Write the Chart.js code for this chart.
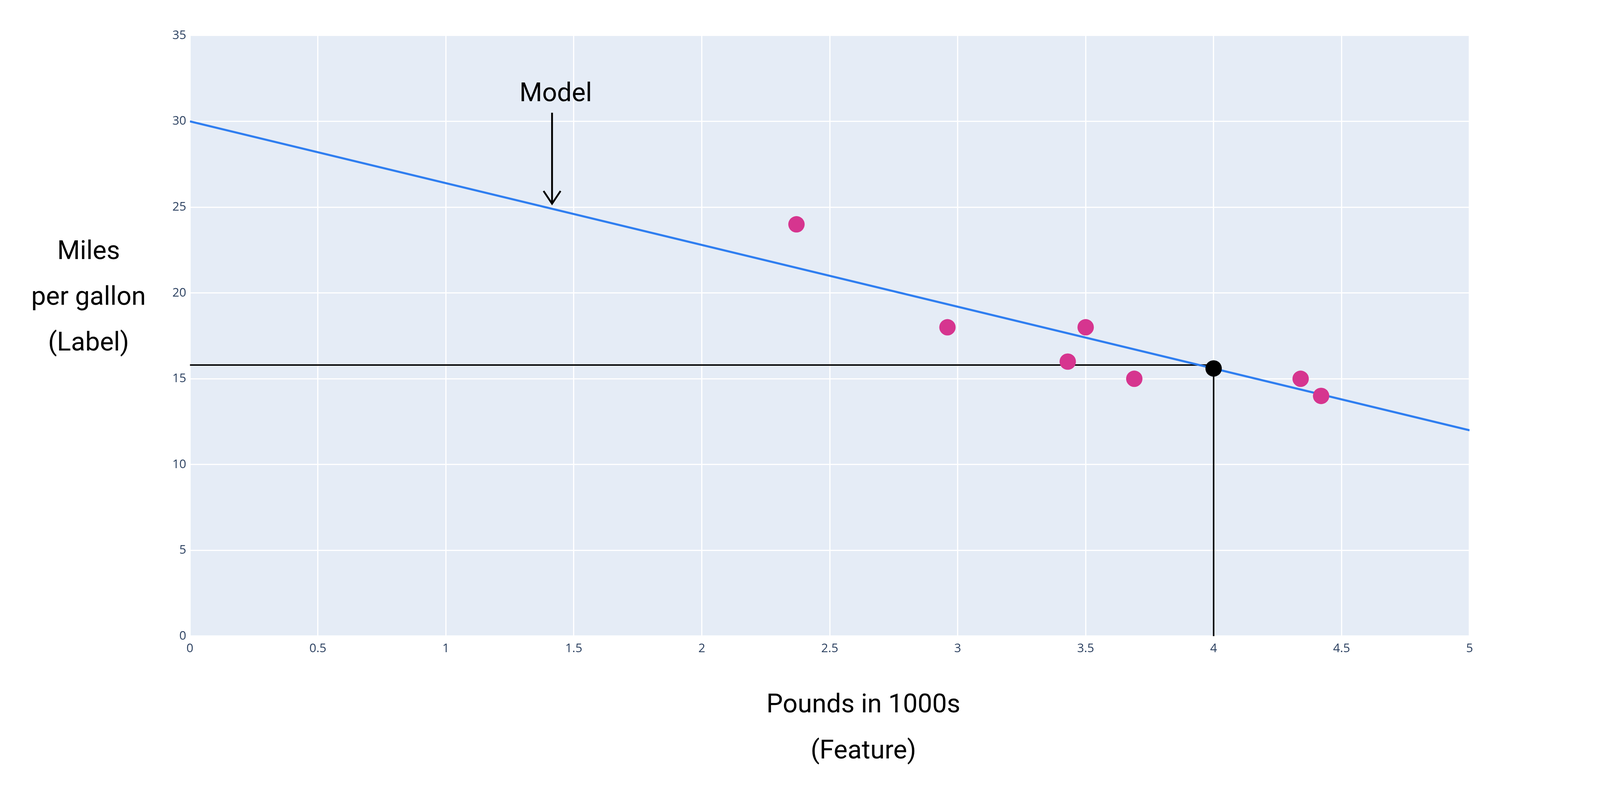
<!DOCTYPE html>
<html><head><meta charset="utf-8">
<script src="https://cdn.jsdelivr.net/npm/chart.js@4/dist/chart.umd.min.js"></script>
<style>html,body{margin:0;padding:0;background:#fff;overflow:hidden}#w{width:100vw;height:100vh}</style>
</head><body><div id="w"><canvas id="c"></canvas></div>
<script>
const weights = [2.37, 2.96, 3.43, 3.5, 3.69, 4.34, 4.42];
const mpg = [24, 18, 16, 18, 15, 15, 14];
const modelX = [0, 5];
const modelY = [30, 12];
const predX = 4, predY = 15.6, guideY = 15.8;
const xTitle = ["Pounds in 1000s", "(Feature)"];
const yTitle = ["Miles", "per gallon", "(Label)"];
const annText = "Model", annX = 1.415, annYTop = 30.5, annYTip = 25.2;

const S = window.innerWidth / 5274;
const SY = window.innerHeight / 2014;
const p = v => v * S;

const bgPlugin = {
  id: 'bg',
  beforeDraw(ch) {
    const a = ch.chartArea, c = ch.ctx;
    c.save(); c.fillStyle = '#e5ecf6'; c.fillRect(a.left, a.top, a.right - a.left, a.bottom - a.top); c.restore();
  },
  afterDraw(ch) {
    const c = ch.ctx, xs = ch.scales.x, ys = ch.scales.y;
    c.save();
    c.fillStyle = '#000'; c.font = p(86) + 'px Roboto'; c.textAlign = 'center'; c.textBaseline = 'middle';
    yTitle.forEach((t, i) => c.fillText(t, p(292), (646 + i * 117) * SY));
    xTitle.forEach((t, i) => c.fillText(t, p(2846), (1806 + i * 118) * SY));
    const ax = xs.getPixelForValue(annX), y1 = ys.getPixelForValue(annYTop), y2 = ys.getPixelForValue(annYTip);
    c.fillText(annText, ax + p(12), y1 - p(60));
    c.strokeStyle = '#000'; c.lineWidth = p(6);
    c.beginPath(); c.moveTo(ax, y1); c.lineTo(ax, y2); c.stroke();
    c.beginPath(); c.moveTo(ax - p(28), y2 - p(42)); c.lineTo(ax, y2); c.lineTo(ax + p(28), y2 - p(42)); c.stroke();
    c.restore();
  }
};

new Chart(document.getElementById('c'), {
  type: 'scatter',
  data: { datasets: [
    { type: 'line', data: [{x: 0, y: guideY}, {x: predX, y: guideY}], borderColor: '#000', borderWidth: p(5), pointRadius: 0, order: 3 },
    { type: 'line', data: [{x: predX, y: 0}, {x: predX, y: predY}], borderColor: '#000', borderWidth: p(5), pointRadius: 0, order: 3 },
    { type: 'line', data: modelX.map((x, i) => ({x, y: modelY[i]})), borderColor: '#2f7ef0', borderWidth: p(7), pointRadius: 0, order: 2 },
    { data: weights.map((x, i) => ({x, y: mpg[i]})), backgroundColor: '#d6358f', borderWidth: 0, pointRadius: p(27), order: 1 },
    { data: [{x: predX, y: predY}], backgroundColor: '#000', borderWidth: 0, pointRadius: p(27), order: 0 }
  ]},
  options: {
    responsive: true, maintainAspectRatio: false, animation: false,
    layout: { padding: { left: 0, top: 91 * SY, right: p(430), bottom: 0 } },
    plugins: { legend: { display: false }, tooltip: { enabled: false } },
    scales: {
      x: { type: 'linear', min: 0, max: 5,
        ticks: { stepSize: 0.5, color: '#2a3f5f', font: { size: p(40), family: 'Open Sans' }, padding: p(18), maxRotation: 0,
          callback: v => String(v) },
        grid: { color: '#ffffff', lineWidth: p(4), tickLength: 0, drawTicks: false }, border: { display: false },
        afterFit(s) { s.height = 386 * SY; } },
      y: { min: 0, max: 35,
        ticks: { stepSize: 5, color: '#2a3f5f', font: { size: p(40), family: 'Open Sans' }, padding: p(12) },
        grid: { color: '#ffffff', lineWidth: p(4), tickLength: 0, drawTicks: false }, border: { display: false },
        afterFit(s) { s.width = p(626); } }
    }
  },
  plugins: [bgPlugin]
});
</script></body></html>
